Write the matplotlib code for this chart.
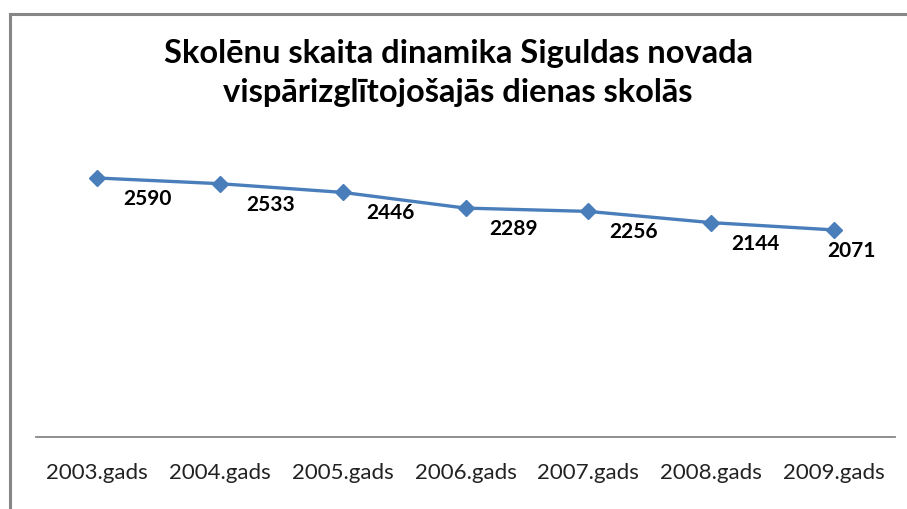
import matplotlib.pyplot as plt
from matplotlib.lines import Line2D

# dati
gadi = ['2003.gads', '2004.gads', '2005.gads', '2006.gads',
        '2007.gads', '2008.gads', '2009.gads']
skolenu_skaits = [2590, 2533, 2446, 2289, 2256, 2144, 2071]
virsraksts = 'Skolēnu skaita dinamika Siguldas novada\nvispārizglītojošajās dienas skolās'

W, H = 907, 510
fig = plt.figure(figsize=(W / 100, H / 100), dpi=100)
fig.patch.set_facecolor('white')

# rāmis (tikai augšējā un kreisā mala redzamas)
fig.add_artist(Line2D([9.5 / W, 1], [1 - 15 / H, 1 - 15 / H], color='#868686', lw=2.2,
                      transform=fig.transFigure))
fig.add_artist(Line2D([9.5 / W, 9.5 / W], [0, 1 - 15 / H], color='#868686', lw=2.2,
                      transform=fig.transFigure))

ax = fig.add_axes([36 / W, 1 - 438 / H, (895 - 36) / W, (438 - 138) / H])
x = list(range(len(gadi)))
ax.plot(x, skolenu_skaits, color='#4A7EBB', lw=2.4, marker='D', markersize=8,
        markerfacecolor='#4A7EBB', markeredgecolor='#4A7EBB')

ax.set_xlim(-0.5, len(gadi) - 0.5)
ax.set_ylim(0, 3000)
ax.set_xticks(x)
ax.set_xticklabels(gadi, fontsize=16, family='Lato', color='#222222')
ax.tick_params(axis='x', length=0, pad=18)
ax.set_yticks([])
for s in ['top', 'right', 'left']:
    ax.spines[s].set_visible(False)
ax.spines['bottom'].set_color('#868686')
ax.spines['bottom'].set_linewidth(1.3)

# vērtību etiķetes
nobide_x = [50, 51, 48, 48, 45, 44, 18]
for xi, v, dx in zip(x, skolenu_skaits, nobide_x):
    ax.annotate(str(v), (xi, v), xytext=(dx * 0.72, -20 * 0.72),
                textcoords='offset points', ha='center', va='center',
                fontsize=15, fontweight='bold', family='Lato', color='black')

fig.text(458 / W, 1 - 73 / H, virsraksts, ha='center', va='center',
         fontsize=23.5, fontweight='bold', family='Lato', linespacing=1.42)

fig.savefig('out.png', dpi=100)
